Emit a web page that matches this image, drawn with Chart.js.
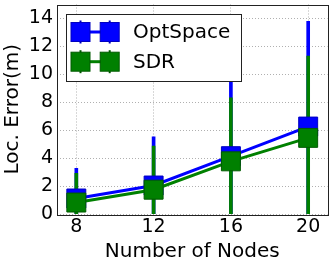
<!DOCTYPE html>
<html>
<head>
<meta charset="utf-8">
<script src="https://cdn.jsdelivr.net/npm/chart.js@4"></script>
<style>
  html, body { margin: 0; padding: 0; background: #fff; }
  #wrap { width: 332px; height: 265px; }
</style>
</head>
<body>
<div id="wrap"><canvas id="myChart"></canvas></div>
<script>
const nodes = [8, 12, 16, 20];
const xTicks = [8, 12, 16, 20];
const yTicks = [0, 2, 4, 6, 8, 10, 12, 14];
const optMean = [1.11, 2.04, 4.14, 6.26];
const optStd = [2.16, 3.49, 6.0, 7.54];
const sdrMean = [0.82, 1.74, 3.77, 5.45];
const sdrStd = [2.09, 3.13, 4.55, 5.85];

const FONT = "'DejaVu Sans', sans-serif";
const BLUE = '#0000ff';
const GREEN = '#008000';

function points(mean) {
    return nodes.map((n, i) => ({x: n, y: mean[i]}));
}
function errBars(mean, std) {
    return nodes.map((n, i) => ({x: n, y: [mean[i] - std[i], mean[i] + std[i]]}));
}

// box around the plot
const framePlugin = {
    id: 'frame',
    afterDatasetsDraw(chart) {
        const a = chart.chartArea, ctx = chart.ctx;
        ctx.save();
        ctx.strokeStyle = '#222';
        ctx.lineWidth = 1;
        ctx.strokeRect(Math.round(a.left) + 0.5, Math.round(a.top) + 0.5,
            Math.round(a.right - a.left), Math.round(a.bottom - a.top));
        ctx.restore();
    }
};

// matplotlib-like legend in the upper left (OptSpace first)
const legendPlugin = {
    id: 'boxLegend',
    afterDraw(chart) {
        const ctx = chart.ctx;
        const items = chart.data.datasets.filter(d => d.type === 'line').reverse();
        const bx = 66.5, by = 14.5, bw = 175, bh = 67;
        ctx.save();
        ctx.fillStyle = '#fff';
        ctx.fillRect(bx, by, bw, bh);
        ctx.strokeStyle = '#222';
        ctx.lineWidth = 1;
        ctx.strokeRect(bx, by, bw, bh);
        items.forEach((d, i) => {
            const cy = 32 + i * 29.7;
            const x1 = 80.5, x2 = 109.7, s = 19;
            ctx.strokeStyle = d.borderColor;
            ctx.lineWidth = 3;
            ctx.beginPath();
            ctx.moveTo(x1, cy);
            ctx.lineTo(x2, cy);
            ctx.stroke();
            [x1, x2].forEach(cx => {
                ctx.strokeStyle = d.pointBorderColor;
                ctx.lineWidth = 2;
                ctx.beginPath();
                ctx.moveTo(cx, cy - s / 2 - 2);
                ctx.lineTo(cx, cy + s / 2 + 2);
                ctx.stroke();
                ctx.fillStyle = d.pointBackgroundColor;
                ctx.fillRect(cx - s / 2, cy - s / 2, s, s);
                ctx.lineWidth = 1;
                ctx.strokeRect(cx - s / 2, cy - s / 2, s, s);
            });
            ctx.fillStyle = '#000';
            ctx.font = '20px ' + FONT;
            ctx.textBaseline = 'middle';
            ctx.textAlign = 'left';
            ctx.fillText(d.label, 133, cy + 1);
        });
        ctx.restore();
    }
};

const data = {
    datasets: [
        {
            type: 'line',
            label: 'SDR',
            data: points(sdrMean),
            borderColor: GREEN,
            borderWidth: 3,
            pointStyle: 'rect',
            pointRadius: 13.4,
            pointHoverRadius: 13.4,
            pointBackgroundColor: GREEN,
            pointBorderColor: '#005a00',
            pointBorderWidth: 1,
            order: 0
        },
        {
            type: 'line',
            label: 'OptSpace',
            data: points(optMean),
            borderColor: BLUE,
            borderWidth: 3,
            pointStyle: 'rect',
            pointRadius: 13.4,
            pointHoverRadius: 13.4,
            pointBackgroundColor: BLUE,
            pointBorderColor: '#0000c0',
            pointBorderWidth: 1,
            order: 1
        },
        {
            type: 'bar',
            label: 'SDR err',
            data: errBars(sdrMean, sdrStd),
            backgroundColor: GREEN,
            barThickness: 3,
            grouped: false,
            borderWidth: 0,
            order: 2
        },
        {
            type: 'bar',
            label: 'OptSpace err',
            data: errBars(optMean, optStd),
            backgroundColor: BLUE,
            barThickness: 3,
            grouped: false,
            borderWidth: 0,
            order: 3
        }
    ]
};

const config = {
    data: data,
    options: {
        responsive: true,
        maintainAspectRatio: false,
        animation: false,
        layout: {autoPadding: false, padding: {top: 4.5, right: 4.5, left: 0, bottom: 0}},
        plugins: {
            legend: {display: false},
            tooltip: {enabled: false}
        },
        scales: {
            x: {
                type: 'linear',
                min: 7,
                max: 21,
                offset: false,
                afterBuildTicks: s => { s.ticks = xTicks.map(v => ({value: v})); },
                afterFit: s => {
                    s.height = 51;
                    s.paddingLeft = 0; s.paddingRight = 0; s.paddingTop = 0; s.paddingBottom = 0;
                },
                grid: {color: '#b0b0b0', lineWidth: 1, drawTicks: false, offset: false},
                border: {display: false, dash: [1, 2]},
                ticks: {color: '#000', padding: 2, font: {family: FONT, size: 19}},
                title: {
                    display: true,
                    text: 'Number of Nodes',
                    color: '#000',
                    font: {family: FONT, size: 20},
                    padding: {top: 0, bottom: 1}
                }
            },
            y: {
                type: 'linear',
                min: 0,
                max: 15,
                afterBuildTicks: s => { s.ticks = yTicks.map(v => ({value: v})); },
                afterFit: s => {
                    s.width = 57;
                    s.paddingLeft = 0; s.paddingRight = 0; s.paddingTop = 0; s.paddingBottom = 0;
                },
                grid: {color: '#b0b0b0', lineWidth: 1, drawTicks: false},
                border: {display: false, dash: [1, 2]},
                ticks: {color: '#000', padding: 4, font: {family: FONT, size: 19}},
                title: {
                    display: true,
                    text: 'Loc. Error(m)',
                    color: '#000',
                    font: {family: FONT, size: 20},
                    padding: {top: 1, bottom: 0}
                }
            }
        }
    },
    plugins: [framePlugin, legendPlugin]
};

new Chart(document.getElementById('myChart'), config);
</script>
</body>
</html>
